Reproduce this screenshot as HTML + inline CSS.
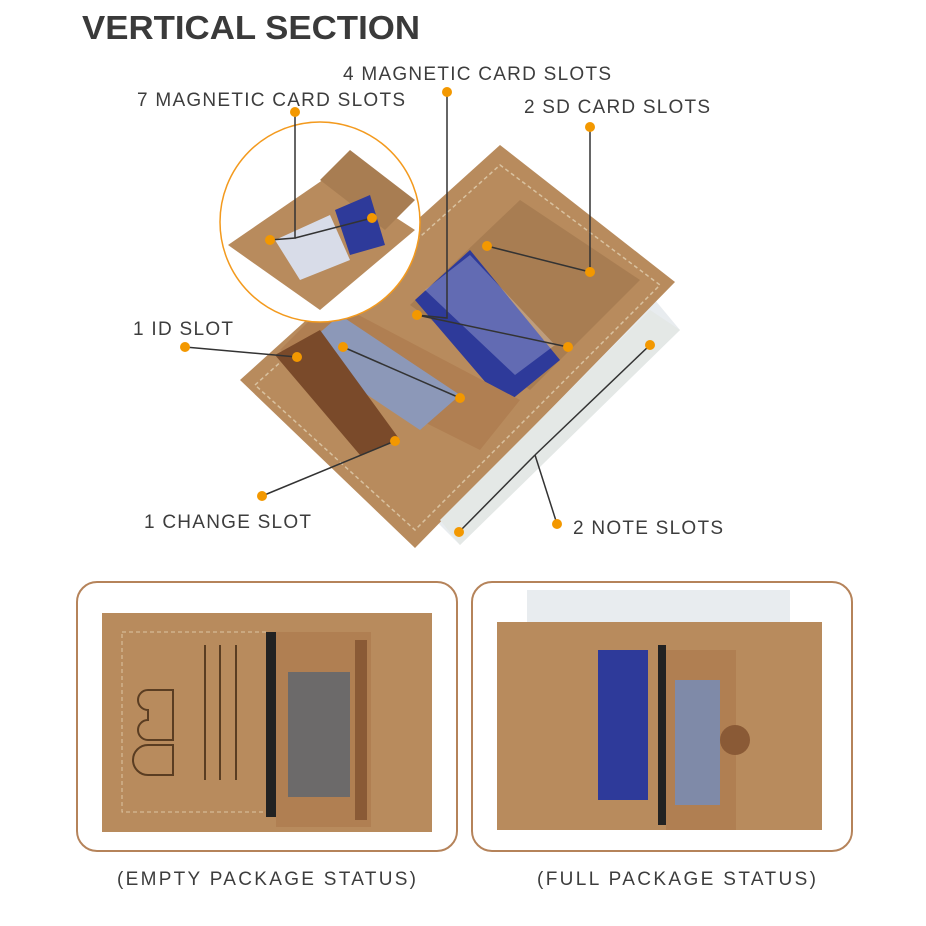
<!DOCTYPE html>
<html><head><meta charset="utf-8"><style>
html,body{margin:0;padding:0;background:#fff;}
body{width:926px;height:926px;position:relative;overflow:hidden;font-family:"Liberation Sans",sans-serif;}
</style></head><body>
<svg width="926" height="926" viewBox="0 0 926 926" xmlns="http://www.w3.org/2000/svg" style="position:absolute;left:0;top:0">
<text x="82" y="39" font-size="33" font-weight="bold" fill="#3a3a3a" textLength="338" lengthAdjust="spacingAndGlyphs" font-family="Liberation Sans">VERTICAL SECTION</text>
<g font-size="19" fill="#3d3d3d" font-family="Liberation Sans" lengthAdjust="spacing">
<text x="343" y="80" textLength="268">4 MAGNETIC CARD SLOTS</text>
<text x="137" y="106" textLength="268">7 MAGNETIC CARD SLOTS</text>
<text x="524" y="113" textLength="186">2 SD CARD SLOTS</text>
<text x="133" y="335" textLength="100">1 ID SLOT</text>
<text x="144" y="528" textLength="167">1 CHANGE SLOT</text>
<text x="573" y="534" textLength="150">2 NOTE SLOTS</text>
<text x="117" y="885" textLength="299">(EMPTY PACKAGE STATUS)</text>
<text x="537" y="885" textLength="279">(FULL PACKAGE STATUS)</text>
</g>
<!-- main wallet -->
<polygon points="420,505 655,300 680,330 460,545" fill="#e8ecef"/>
<polygon points="240,380 500,145 675,282 415,548" fill="#b88b5d"/>
<polygon points="255,385 500,165 660,285 415,530" fill="none" stroke="#d9c2a0" stroke-width="1.5" stroke-dasharray="4 3"/>
<polygon points="440,520 650,310 680,330 460,545" fill="#e4e8e6"/>
<polygon points="410,305 520,200 640,280 530,390" fill="#a87d52"/>
<polygon points="415,300 470,250 560,360 505,405" fill="#2e3a9a"/>
<polygon points="425,290 470,255 555,345 515,375" fill="#fff" opacity=".25"/>
<polygon points="280,350 330,300 520,400 480,450" fill="#b07f52"/>
<polygon points="300,350 340,315 460,395 420,430" fill="#8c98b8"/>
<polygon points="275,355 320,330 400,440 360,455" fill="#7a4a2a"/>
<!-- inset circle -->
<circle cx="320" cy="222" r="100" fill="#fff" stroke="#f39a1e" stroke-width="1.5"/>
<polygon points="228,245 330,175 415,230 320,310" fill="#b88b5d"/>
<polygon points="320,180 350,150 415,200 385,230" fill="#a87d52"/>
<polygon points="275,240 330,215 350,260 300,280" fill="#d8dce8"/>
<polygon points="335,210 370,195 385,245 350,255" fill="#2e3a9a"/>
<!-- lines -->
<g stroke="#333" stroke-width="1.5" fill="none">
<polyline points="295,112 295,238 270,240"/><line x1="295" y1="238" x2="372" y2="218"/>
<polyline points="447,92 447,318 417,315"/><line x1="417" y1="315" x2="568" y2="347"/>
<line x1="590" y1="127" x2="590" y2="272"/><line x1="487" y1="246" x2="590" y2="272"/>
<line x1="185" y1="347" x2="297" y2="357"/><line x1="343" y1="347" x2="460" y2="398"/>
<line x1="262" y1="496" x2="395" y2="441"/>
<line x1="557" y1="524" x2="535" y2="455"/><line x1="650" y1="345" x2="535" y2="455"/><line x1="459" y1="532" x2="535" y2="455"/>
</g>
<g fill="#f39800">
<circle cx="295" cy="112" r="5"/><circle cx="270" cy="240" r="5"/><circle cx="372" cy="218" r="5"/>
<circle cx="447" cy="92" r="5"/><circle cx="417" cy="315" r="5"/><circle cx="568" cy="347" r="5"/>
<circle cx="590" cy="127" r="5"/><circle cx="590" cy="272" r="5"/><circle cx="487" cy="246" r="5"/>
<circle cx="185" cy="347" r="5"/><circle cx="297" cy="357" r="5"/><circle cx="343" cy="347" r="5"/><circle cx="460" cy="398" r="5"/>
<circle cx="262" cy="496" r="5"/><circle cx="395" cy="441" r="5"/>
<circle cx="557" cy="524" r="5"/><circle cx="650" cy="345" r="5"/><circle cx="459" cy="532" r="5"/>
</g>
<!-- bottom boxes -->
<rect x="77" y="582" width="380" height="269" rx="20" fill="none" stroke="#b5835a" stroke-width="2"/>
<rect x="472" y="582" width="380" height="269" rx="20" fill="none" stroke="#b5835a" stroke-width="2"/>
<rect x="102" y="613" width="330" height="219" fill="#b88b5d"/>
<rect x="122" y="632" width="145" height="180" fill="none" stroke="#ddc6a3" stroke-dasharray="4 3"/>
<g stroke="#5a3d22" stroke-width="2" fill="none">
<path d="M148,690 h25 v50 h-25 a10,10 0 0 1 0,-20 v-10 a10,10 0 0 1 0,-20 z"/>
<path d="M148,745 h25 v30 h-25 a10,10 0 0 1 0,-30 z"/>
<line x1="205" y1="645" x2="205" y2="780"/><line x1="220" y1="645" x2="220" y2="780"/><line x1="236" y1="645" x2="236" y2="780"/>
</g>
<rect x="266" y="632" width="10" height="185" fill="#222"/>
<rect x="276" y="632" width="95" height="195" fill="#b07f52"/>
<rect x="288" y="672" width="62" height="125" fill="#6c6a6a"/>
<rect x="355" y="640" width="12" height="180" fill="#8a5a36"/>
<rect x="527" y="590" width="263" height="45" fill="#e8ecef"/>
<rect x="497" y="622" width="325" height="208" fill="#b88b5d"/>
<rect x="598" y="650" width="50" height="150" fill="#2e3a9a"/>
<rect x="658" y="645" width="8" height="180" fill="#222"/>
<rect x="666" y="650" width="70" height="180" fill="#b07f52"/>
<rect x="675" y="680" width="45" height="125" fill="#7f8aa8"/>
<circle cx="735" cy="740" r="15" fill="#8a5a36"/>
</svg>
</body></html>
